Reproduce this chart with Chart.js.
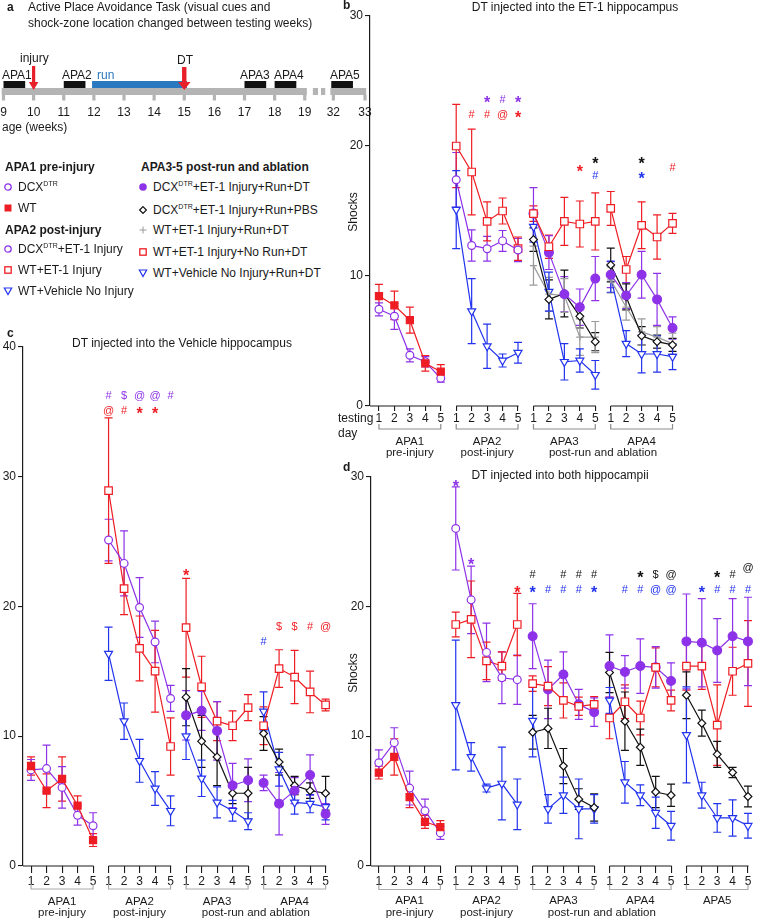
<!DOCTYPE html>
<html><head><meta charset="utf-8">
<script src="https://cdn.jsdelivr.net/npm/chart.js@4.4.1/dist/chart.umd.min.js"></script>
<style>
body{margin:0;width:762px;height:921px;position:relative;background:#fff;font-family:"Liberation Sans",Arial,sans-serif;color:#1a1a1a;overflow:hidden}
.t{position:absolute;white-space:nowrap;line-height:14px;font-size:12px}
.bd{font-weight:bold}
.c{transform:translateX(-50%)}
sup{font-size:7px;vertical-align:5px;line-height:0}
canvas{position:absolute}
svg{position:absolute}
</style></head><body>

<canvas id="ca" width="375" height="140" style="left:0;top:0"></canvas>
<canvas id="cb" width="427" height="470" style="left:335px;top:0"></canvas>
<canvas id="cc" width="345" height="591" style="left:0;top:330px"></canvas>
<canvas id="cd" width="427" height="461" style="left:335px;top:460px"></canvas>

<!-- panel a text -->
<div class="t bd" style="left:7px;top:0">a</div>
<div class="t" style="left:28px;top:0">Active Place Avoidance Task (visual cues and</div>
<div class="t" style="left:28px;top:16px">shock-zone location changed between testing weeks)</div>
<div class="t" style="left:20px;top:51px">injury</div>
<div class="t" style="left:177px;top:53px">DT</div>
<div class="t" style="left:2px;top:68px">APA1</div>
<div class="t" style="left:62px;top:68px">APA2</div>
<div class="t" style="left:97px;top:68px;color:#2a78c0">run</div>
<div class="t" style="left:240px;top:68px">APA3</div>
<div class="t" style="left:274px;top:68px">APA4</div>
<div class="t" style="left:330px;top:68px">APA5</div>
<div class="t" style="left:2px;top:120px">age (weeks)</div>

<!-- legend -->
<div class="t bd" style="left:5px;top:160px">APA1 pre-injury</div>
<div class="t" style="left:18px;top:180px">DCX<sup>DTR</sup></div>
<div class="t" style="left:18px;top:201px">WT</div>
<div class="t bd" style="left:5px;top:223px">APA2 post-injury</div>
<div class="t" style="left:18px;top:242px">DCX<sup>DTR</sup>+ET-1 Injury</div>
<div class="t" style="left:18px;top:263px">WT+ET-1 Injury</div>
<div class="t" style="left:18px;top:284px">WT+Vehicle No Injury</div>
<div class="t bd" style="left:141px;top:160px">APA3-5 post-run and ablation</div>
<div class="t" style="left:153px;top:180px">DCX<sup>DTR</sup>+ET-1 Injury+Run+DT</div>
<div class="t" style="left:153px;top:203px">DCX<sup>DTR</sup>+ET-1 Injury+Run+PBS</div>
<div class="t" style="left:153px;top:223px">WT+ET-1 Injury+Run+DT</div>
<div class="t" style="left:153px;top:245px">WT+ET-1 Injury+No Run+DT</div>
<div class="t" style="left:153px;top:266px">WT+Vehicle No Injury+Run+DT</div>

<svg width="10" height="10" style="left:3px;top:182px"><circle cx="5" cy="5" r="3.2" fill="#fff" stroke="#8d32e8" stroke-width="1.3"/></svg>
<svg width="10" height="10" style="left:3px;top:203px"><rect x="1.5" y="1.5" width="7" height="7" fill="#ee1d23"/></svg>
<svg width="10" height="10" style="left:3px;top:244px"><circle cx="5" cy="5" r="3.2" fill="#fff" stroke="#8d32e8" stroke-width="1.3"/></svg>
<svg width="10" height="10" style="left:3px;top:265px"><rect x="1.8" y="1.8" width="6.4" height="6.4" fill="none" stroke="#ee1d23" stroke-width="1.3"/></svg>
<svg width="10" height="10" style="left:3px;top:286px"><polygon points="1.3,2 8.7,2 5,8.6" fill="none" stroke="#2233ee" stroke-width="1.2"/></svg>
<svg width="10" height="10" style="left:138px;top:182px"><circle cx="5" cy="5" r="3.8" fill="#8d32e8"/></svg>
<svg width="10" height="10" style="left:138px;top:205px"><polygon points="5,1.6 8.4,5 5,8.4 1.6,5" fill="none" stroke="#111" stroke-width="1.2"/></svg>
<svg width="10" height="10" style="left:138px;top:225px"><path d="M5 1.5V8.5M1.5 5H8.5" stroke="#9a9a9a" stroke-width="1"/></svg>
<svg width="10" height="10" style="left:138px;top:247px"><rect x="1.8" y="1.8" width="6.4" height="6.4" fill="none" stroke="#ee1d23" stroke-width="1.3"/></svg>
<svg width="10" height="10" style="left:138px;top:268px"><polygon points="1.3,2 8.7,2 5,8.6" fill="none" stroke="#2233ee" stroke-width="1.2"/></svg>

<!-- panel b text -->
<div class="t bd" style="left:343px;top:-2px">b</div>
<div class="t c" style="left:575px;top:0">DT injected into the ET-1 hippocampus</div>
<div class="t" style="left:345px;top:205px;transform:translate(-50%,0) rotate(-90deg);transform-origin:50% 50%;left:353px;margin-left:-0px"><span>Shocks</span></div>
<div class="t" style="left:338px;top:411px">testing</div>
<div class="t" style="left:338px;top:426px">day</div>

<!-- panel c text -->
<div class="t bd" style="left:7px;top:326px">c</div>
<div class="t c" style="left:182px;top:336px">DT injected into the Vehicle hippocampus</div>

<!-- panel d text -->
<div class="t bd" style="left:343px;top:460px">d</div>
<div class="t c" style="left:560px;top:468px">DT injected into both hippocampii</div>
<div class="t" style="left:353px;top:666px;transform:translate(-50%,0) rotate(-90deg)">Shocks</div>

<script>
const N = null;
const RED = '#ee1d23', PUR = '#8d32e8', BLU = '#2233ee', BLK = '#111111', GRY = '#9a9a9a';
const COL = {r: RED, p: PUR, b: BLU, k: BLK};

/* ---------- panel a : timeline ---------- */
const weekLabels = ['9','10','11','12','13','14','15','16','17','18','19','32','33'];
const weekPos    = [0,1,2,3,4,5,6,7,8,9,10,10.95,12];
const apaStarts  = [0, 2, 8, 9, 10.88];
const apaLength  = 0.72;
const runSpan    = [2.94, 6.09];
const barSpans   = [[-0.06, 10.07], [10.85, 12.04]];
const breakDots  = [[10.27, 10.44], [10.54, 10.68]];
const injuryWeekPos = 1, dtWeekPos = 6;

/* ---------- panel b : DT injected into the ET-1 hippocampus ---------- */
const bWT      = [8.46,7.74,6.6,3.28,2.64, N,N,N,N,N, N,N,N,N,N, N,N,N,N,N];
const bWTe     = [0.9,1.1,1.0,0.6,0.55, N,N,N,N,N, N,N,N,N,N, N,N,N,N,N];
const bDCX     = [7.44,6.9,3.9,3.4,2.13, 17.4,12.35,12.1,12.7,12.0, N,N,N,N,N, N,N,N,N,N];
const bDCXe    = [0.5,1.0,0.5,0.4,0.3, 2.1,1.2,0.95,0.8,0.9, N,N,N,N,N, N,N,N,N,N];
const bRedOpen = [N,N,N,N,N, 20.0,18.0,14.2,15.0,12.1, 14.8,12.25,14.2,14.0,14.2, 15.2,10.5,13.9,13.0,14.05];
const bRedOpenE= [N,N,N,N,N, 3.2,3.3,1.5,1.0,0.9, 0.6,0.9,1.85,1.77,2.2, 1.3,1.0,1.8,1.7,0.77];
const bBlue    = [N,N,N,N,N, 15.1,7.3,4.6,3.5,4.1, 13.8,8.8,3.4,3.5,2.4, 9.95,4.8,4.0,4.0,3.8];
const bBlueE   = [N,N,N,N,N, 3.0,2.5,1.7,0.5,0.8, 1.2,1.5,1.4,0.9,1.1, 1.2,1.0,1.45,1.4,1.0];
const bPurDT   = [N,N,N,N,N, N,N,N,N,N, 14.8,11.8,8.6,7.6,9.8, 10.1,8.5,10.1,8.2,6.0];
const bPurDTe  = [N,N,N,N,N, N,N,N,N,N, 2.0,1.3,1.35,1.4,1.7, 1.0,1.0,1.8,2.0,0.85];
const bBlack   = [N,N,N,N,N, N,N,N,N,N, 12.8,8.2,8.65,6.9,4.95, 10.85,8.4,5.4,4.95,4.7];
const bBlackE  = [N,N,N,N,N, N,N,N,N,N, 0.9,1.5,1.8,0.9,0.7, 1.3,1.0,0.7,0.5,0.5];
const bGray    = [N,N,N,N,N, N,N,N,N,N, 10.8,8.6,8.5,5.3,5.3, 9.7,7.6,5.7,5.3,4.8];
const bGrayE   = [N,N,N,N,N, N,N,N,N,N, 1.5,1.3,1.3,1.4,1.2, 1.0,1.0,1.0,0.8,0.8];
const bGroups  = ['APA1','APA2','APA3','APA4'];
const bSubs    = [['pre-injury',0,0],['post-injury',1,1],['post-run and ablation',2,3]];
const bMarks = [
  [7,23.6,'*','p'],[8,23.6,'#','p'],[9,23.6,'*','p'],
  [6,22.46,'#','r'],[7,22.46,'#','r'],[8,22.46,'@','r'],[9,22.46,'*','r'],
  [13,18.33,'*','r'],[14,18.9,'*','k'],[14,17.8,'#','b'],
  [17,18.9,'*','k'],[17,17.77,'*','b'],[19,18.36,'#','r']];

/* ---------- panel c : DT injected into the Vehicle hippocampus ---------- */
const cWT      = [7.7,5.8,6.7,4.65,2.0, N,N,N,N,N, N,N,N,N,N, N,N,N,N,N];
const cWTe     = [0.7,1.3,1.7,0.75,0.5, N,N,N,N,N, N,N,N,N,N, N,N,N,N,N];
const cDCX     = [7.4,7.5,6.05,3.9,3.1, 25.1,23.3,19.9,17.25,12.9, N,N,N,N,N, N,N,N,N,N];
const cDCXe    = [0.8,1.8,1.6,0.75,1.0, 1.6,2.5,2.3,1.6,1.0, N,N,N,N,N, N,N,N,N,N];
const cRedOpen = [N,N,N,N,N, 28.9,21.35,16.75,15.0,9.2, 18.35,13.8,11.15,10.8,12.2, 10.8,15.2,14.55,13.4,12.4];
const cRedOpenE= [N,N,N,N,N, 5.6,2.0,2.5,3.15,2.2, 3.8,2.35,1.5,1.15,1.0, 1.45,1.45,2.05,1.6,0.45];
const cBlue    = [N,N,N,N,N, 16.35,11.15,8.1,5.97,4.25, 10.0,6.75,4.9,4.25,3.45, 11.9,7.45,4.9,4.8,4.55];
const cBlueE   = [N,N,N,N,N, 2.05,1.4,1.65,1.3,1.15, 1.8,1.4,1.2,0.8,0.65, 1.5,1.3,0.9,0.7,1.0];
const cPurDT   = [N,N,N,N,N, N,N,N,N,N, 11.6,11.95,10.4,6.2,6.6, 6.4,4.8,5.8,7.0,4.0];
const cPurDTe  = [N,N,N,N,N, N,N,N,N,N, 1.9,1.5,2.25,1.7,1.65, 0.6,2.4,1.0,1.55,0.8];
const cBlack   = [N,N,N,N,N, N,N,N,N,N, 13.0,9.6,8.4,5.6,5.6, 10.2,8.0,6.2,5.8,5.6];
const cBlackE  = [N,N,N,N,N, N,N,N,N,N, 2.2,2.0,2.2,0.8,2.0, 1.3,1.0,0.7,0.6,1.3];
const cGroups  = ['APA1','APA2','APA3','APA4'];
const cSubs    = [['pre-injury',0,0],['post-injury',1,1],['post-run and ablation',2,3]];
const cMarks = [
  [5,36.3,'#','p'],[6,36.3,'$','p'],[7,36.3,'@','p'],[8,36.3,'@','p'],[9,36.3,'#','p'],
  [5,35.1,'@','r'],[6,35.1,'#','r'],[7,35.1,'*','r'],[8,35.1,'*','r'],
  [10,22.6,'*','r'],[15,17.3,'#','b'],
  [16,18.5,'$','r'],[17,18.5,'$','r'],[18,18.5,'#','r'],[19,18.5,'@','r']];

/* ---------- panel d : DT injected into both hippocampii ---------- */
const dWT      = [7.2,8.4,5.3,3.4,3.0, N,N,N,N,N, N,N,N,N,N, N,N,N,N,N, N,N,N,N,N];
const dWTe     = [0.5,1.4,0.8,0.5,0.5, N,N,N,N,N, N,N,N,N,N, N,N,N,N,N, N,N,N,N,N];
const dDCX     = [7.95,9.5,6.0,4.25,2.55, 26.0,20.5,16.45,14.5,14.35, N,N,N,N,N, N,N,N,N,N, N,N,N,N,N];
const dDCXe    = [1.0,1.15,1.3,0.9,0.5, 3.2,2.6,2.25,2.0,1.9, N,N,N,N,N, N,N,N,N,N, N,N,N,N,N];
const dRedOpen = [N,N,N,N,N, 18.6,19.0,15.8,15.4,18.6, 14.05,13.85,12.75,12.3,12.45, 11.4,12.65,11.4,15.3,12.75, 15.4,15.4,10.85,15.0,15.6];
const dRedOpenE= [N,N,N,N,N, 0.95,2.95,1.45,1.1,2.4, 0.6,1.5,1.35,0.7,0.6, 1.6,1.3,1.3,1.5,0.8, 1.85,1.8,3.1,1.85,3.3];
const dBlue    = [N,N,N,N,N, 12.4,8.4,6.0,6.35,4.75, 11.2,4.4,5.45,4.4,4.4, 12.75,6.45,5.45,4.1,3.1, 10.1,5.45,3.7,3.7,3.1];
const dBlueE   = [N,N,N,N,N, 5.0,1.1,0.3,2.8,1.95, 2.8,1.1,1.4,2.3,1.1, 1.0,1.6,0.8,1.2,1.1, 3.7,1.0,1.1,1.4,0.95];
const dPurDT   = [N,N,N,N,N, N,N,N,N,N, 17.7,13.6,14.75,12.45,11.85, 15.4,14.95,15.4,15.3,14.25, 17.3,17.2,16.6,17.7,17.3];
const dPurDTe  = [N,N,N,N,N, N,N,N,N,N, 2.5,2.25,1.75,1.15,1.1, 2.4,1.25,2.1,1.6,1.4, 3.65,3.4,2.45,2.9,3.4];
const dBlack   = [N,N,N,N,N, N,N,N,N,N, 10.3,10.6,7.7,5.15,4.5, 14.9,11.15,9.15,5.7,5.45, 13.15,11.0,8.6,7.2,5.35];
const dBlackE  = [N,N,N,N,N, N,N,N,N,N, 1.3,1.55,1.35,0.8,1.05, 1.55,2.25,1.4,1.2,0.85, 1.8,1.0,1.0,0.4,0.8];
const dGroups  = ['APA1','APA2','APA3','APA4','APA5'];
const dSubs    = [['pre-injury',0,0],['post-injury',1,1],['post-run and ablation',2,3]];
const dMarks = [
  [5,29.5,'*','p'],[6,23.5,'*','p'],[9,21.3,'*','r'],
  [10,22.5,'#','k'],[12,22.5,'#','k'],[13,22.5,'#','k'],[14,22.5,'#','k'],
  [10,21.3,'*','b'],[11,21.3,'#','b'],[12,21.3,'#','b'],[13,21.3,'#','b'],[14,21.3,'*','b'],
  [17,22.5,'*','k'],[18,22.5,'$','k'],[19,22.5,'@','k'],
  [16,21.3,'#','b'],[17,21.3,'#','b'],[18,21.3,'@','b'],[19,21.3,'@','b'],
  [22,22.5,'*','k'],[23,22.5,'#','k'],[24,23.0,'@','k'],
  [21,21.3,'*','b'],[22,21.3,'#','b'],[23,21.3,'#','b'],[24,21.3,'#','b']];

/* ---------- common ---------- */
Chart.defaults.font.family = '"Liberation Sans", Arial, sans-serif';
Chart.defaults.font.size = 12;
Chart.defaults.color = '#1a1a1a';

const STY = {
  wt:    {borderColor: RED, pointStyle: 'rect', pointRadius: 5, pointBackgroundColor: RED, pointBorderColor: RED},
  dcx:   {borderColor: PUR, pointStyle: 'circle', pointRadius: 3.9, pointBackgroundColor: '#fff', pointBorderColor: PUR},
  red:   {borderColor: RED, pointStyle: 'rect', pointRadius: 5.3, pointBackgroundColor: '#fff', pointBorderColor: RED},
  blue:  {borderColor: BLU, pointStyle: 'triangle', pointRotation: 180, pointRadius: 4.6, pointBackgroundColor: '#fff', pointBorderColor: BLU},
  pur:   {borderColor: PUR, pointStyle: 'circle', pointRadius: 4.4, pointBackgroundColor: PUR, pointBorderColor: PUR},
  black: {borderColor: BLK, pointStyle: 'rectRot', pointRadius: 3.9, pointBackgroundColor: '#fff', pointBorderColor: BLK},
  gray:  {borderColor: GRY, pointStyle: 'cross', pointRadius: 3.6, pointBackgroundColor: GRY, pointBorderColor: GRY}
};

function series(vals, errs, sty) {
  const pts = [];
  vals.forEach((v, i) => {
    if (i > 0 && i % 5 === 0) pts.push({x: i - 0.5, y: null});
    pts.push({x: i, y: v, e: errs[i]});
  });
  return Object.assign({data: pts, borderWidth: 1.2, pointBorderWidth: 1.2, fill: false,
                        spanGaps: false, clip: false, tension: 0, errColor: sty.borderColor}, sty);
}

const deco = {};

const panelPlugin = {
  id: 'panelDeco',
  beforeDatasetsDraw(chart) {
    const cfg = deco[chart.canvas.id]; if (!cfg) return;
    const {ctx, scales: {x, y}} = chart;
    ctx.save();
    ctx.lineWidth = 1.2;
    chart.data.datasets.forEach(ds => {
      ctx.strokeStyle = ds.errColor;
      ds.data.forEach(p => {
        if (p.y == null || p.e == null) return;
        const px = x.getPixelForValue(p.x);
        const t = y.getPixelForValue(p.y + p.e), b = y.getPixelForValue(Math.max(0, p.y - p.e));
        ctx.beginPath();
        ctx.moveTo(px, t); ctx.lineTo(px, b);
        ctx.moveTo(px - 4, t); ctx.lineTo(px + 4, t);
        ctx.moveTo(px - 4, b); ctx.lineTo(px + 4, b);
        ctx.stroke();
      });
    });
    ctx.restore();
  },
  afterDraw(chart) {
    const cfg = deco[chart.canvas.id]; if (!cfg) return;
    const {ctx, chartArea, scales: {x, y}} = chart;
    const bot = chartArea.bottom;
    ctx.save();
    // broken x axis segments
    ctx.strokeStyle = '#1a1a1a'; ctx.lineWidth = 1.2;
    cfg.groups.forEach((g, gi) => {
      const x0 = gi === 0 ? chartArea.left : x.getPixelForValue(gi * 5);
      const x1 = x.getPixelForValue(gi * 5 + 4);
      ctx.beginPath(); ctx.moveTo(x0, bot); ctx.lineTo(x1 + 0.6, bot); ctx.stroke();
    });
    // brackets
    ctx.strokeStyle = cfg.bracketColor; ctx.lineWidth = 1.2;
    cfg.groups.forEach((g, gi) => {
      const x0 = x.getPixelForValue(gi * 5), x1 = x.getPixelForValue(gi * 5 + 4);
      const yb = bot + cfg.bracketOff;
      ctx.beginPath();
      ctx.moveTo(x0, yb - 5); ctx.lineTo(x0, yb); ctx.lineTo(x1, yb); ctx.lineTo(x1, yb - 5);
      ctx.stroke();
    });
    // group labels
    ctx.fillStyle = '#1a1a1a'; ctx.textAlign = 'center'; ctx.textBaseline = 'middle';
    ctx.font = '11.5px "Liberation Sans", Arial, sans-serif';
    cfg.groups.forEach((g, gi) => {
      const xm = (x.getPixelForValue(gi * 5) + x.getPixelForValue(gi * 5 + 4)) / 2;
      ctx.fillText(g, xm, bot + cfg.line1);
    });
    cfg.subs.forEach(([s, g0, g1]) => {
      const xm = (x.getPixelForValue(g0 * 5) + x.getPixelForValue(g1 * 5 + 4)) / 2;
      ctx.fillText(s, xm, bot + cfg.line2);
    });
    // significance marks
    ctx.textBaseline = 'alphabetic';
    cfg.marks.forEach(([xi, yv, t, c]) => {
      const px = x.getPixelForValue(xi), py = y.getPixelForValue(yv);
      ctx.fillStyle = COL[c];
      if (t === '*') { ctx.font = 'bold 16px "Liberation Sans", Arial, sans-serif'; ctx.fillText(t, px, py + 9); }
      else { ctx.font = '11px "Liberation Sans", Arial, sans-serif'; ctx.fillText(t, px, py + 4); }
    });
    ctx.restore();
  }
};

function makePanel(id, opt) {
  deco[id] = opt.deco;
  const nPos = opt.nPos;
  return new Chart(document.getElementById(id), {
    type: 'line',
    data: {datasets: opt.datasets},
    plugins: [panelPlugin],
    options: {
      responsive: false, animation: false, devicePixelRatio: 1, events: [],
      layout: {padding: {left: 0, top: opt.padTop, right: opt.padRight, bottom: 0}},
      plugins: {legend: {display: false}, tooltip: {enabled: false}},
      scales: {
        x: {
          type: 'linear', min: opt.xMin, max: opt.xMax,
          afterBuildTicks: s => { s.ticks = Array.from({length: nPos}, (_, i) => ({value: i})); },
          afterFit: s => { s.height = opt.xH; },
          grid: {drawOnChartArea: false, drawTicks: true, tickLength: opt.tickLen, color: '#1a1a1a', lineWidth: 1.1},
          border: {display: false},
          ticks: {autoSkip: false, maxRotation: 0, padding: opt.tickPad, font: {size: 12},
                  callback: v => String((Math.round(v) % 5) + 1)}
        },
        y: {
          min: 0, max: opt.yMax,
          afterBuildTicks: s => { s.ticks = opt.yTicks.map(v => ({value: v})); },
          afterFit: s => { s.width = opt.yW; },
          grid: {drawOnChartArea: false, drawTicks: true, tickLength: 5, color: '#1a1a1a', lineWidth: 1.1},
          border: {display: true, color: '#1a1a1a', width: 1.2},
          ticks: {padding: 2, font: {size: 12}}
        }
      }
    }
  });
}

/* timeline chart */
const timelinePlugin = {
  id: 'timeline',
  afterDraw(chart) {
    const {ctx, scales: {x}} = chart;
    const px = v => x.getPixelForValue(v);
    ctx.save();
    ctx.fillStyle = '#b4b4b4';
    barSpans.forEach(([a, b]) => ctx.fillRect(px(a), 88, px(b) - px(a), 7));
    breakDots.forEach(([a, b]) => ctx.fillRect(px(a), 88, px(b) - px(a), 7));
    weekPos.forEach(w => ctx.fillRect(px(w) - 1.6, 95, 3.2, 5.5));
    ctx.fillStyle = '#111';
    apaStarts.forEach(s => ctx.fillRect(px(s), 81, px(s + apaLength) - px(s), 7));
    ctx.fillStyle = '#2a78c0';
    ctx.fillRect(px(runSpan[0]), 81, px(runSpan[1]) - px(runSpan[0]), 7);
    // arrows
    ctx.fillStyle = '#e8202a';
    const arrow = (w, sw, hw, y0) => {
      const cx = px(w);
      ctx.fillRect(cx - sw / 2, y0, sw, 83 - y0);
      ctx.beginPath(); ctx.moveTo(cx - hw / 2, 82); ctx.lineTo(cx + hw / 2, 82); ctx.lineTo(cx, 90); ctx.closePath(); ctx.fill();
    };
    arrow(injuryWeekPos, 3.2, 9.5, 66);
    arrow(dtWeekPos, 4.4, 12.5, 67);
    // week labels
    ctx.fillStyle = '#1a1a1a'; ctx.font = '12px "Liberation Sans", Arial, sans-serif';
    ctx.textAlign = 'center'; ctx.textBaseline = 'middle';
    weekLabels.forEach((l, i) => ctx.fillText(l, px(weekPos[i]), 113));
    ctx.restore();
  }
};
new Chart(document.getElementById('ca'), {
  type: 'scatter', data: {datasets: [{data: []}]}, plugins: [timelinePlugin],
  options: {responsive: false, animation: false, devicePixelRatio: 1, events: [],
    layout: {padding: {left: 3.5, right: 10, top: 0, bottom: 0}},
    plugins: {legend: {display: false}, tooltip: {enabled: false}},
    scales: {x: {type: 'linear', min: 0, max: 12, display: false}, y: {min: 0, max: 1, display: false}}}
});

makePanel('cb', {
  nPos: 20, xMin: -0.58, xMax: 19.6, xH: 64, yW: 35, padTop: 16, padRight: 80.2, yMax: 30, yTicks: [0,10,20,30],
  tickLen: 5, tickPad: 0,
  deco: {groups: bGroups, subs: bSubs, marks: bMarks, bracketColor: '#8c8c8c', bracketOff: 23, line1: 36, line2: 47},
  datasets: [
    series(bWT, bWTe, STY.wt), series(bDCX, bDCXe, STY.dcx),
    series(bRedOpen, bRedOpenE, STY.red), series(bPurDT, bPurDTe, STY.pur),
    series(bBlack, bBlackE, STY.black), series(bGray, bGrayE, STY.gray),
    series(bBlue, bBlueE, STY.blue)]
});
makePanel('cc', {
  nPos: 20, xMin: -0.52, xMax: 19.6, xH: 55, yW: 23, padTop: 16.5, padRight: 10.1, yMax: 40, yTicks: [0,10,20,30,40],
  tickLen: 7, tickPad: 1,
  deco: {groups: cGroups, subs: cSubs, marks: cMarks, bracketColor: '#ababab', bracketOff: 23, line1: 36, line2: 47},
  datasets: [
    series(cWT, cWTe, STY.wt), series(cDCX, cDCXe, STY.dcx),
    series(cRedOpen, cRedOpenE, STY.red), series(cPurDT, cPurDTe, STY.pur),
    series(cBlack, cBlackE, STY.black), series(cBlue, cBlueE, STY.blue)]
});
makePanel('cd', {
  nPos: 25, xMin: -0.51, xMax: 24.49, xH: 55, yW: 36, padTop: 16.5, padRight: 1, yMax: 30, yTicks: [0,10,20,30],
  tickLen: 7, tickPad: 1,
  deco: {groups: dGroups, subs: dSubs, marks: dMarks, bracketColor: '#ababab', bracketOff: 23.5, line1: 34.5, line2: 47},
  datasets: [
    series(dWT, dWTe, STY.wt), series(dDCX, dDCXe, STY.dcx),
    series(dRedOpen, dRedOpenE, STY.red), series(dPurDT, dPurDTe, STY.pur),
    series(dBlack, dBlackE, STY.black), series(dBlue, dBlueE, STY.blue)]
});
</script>
</body></html>
